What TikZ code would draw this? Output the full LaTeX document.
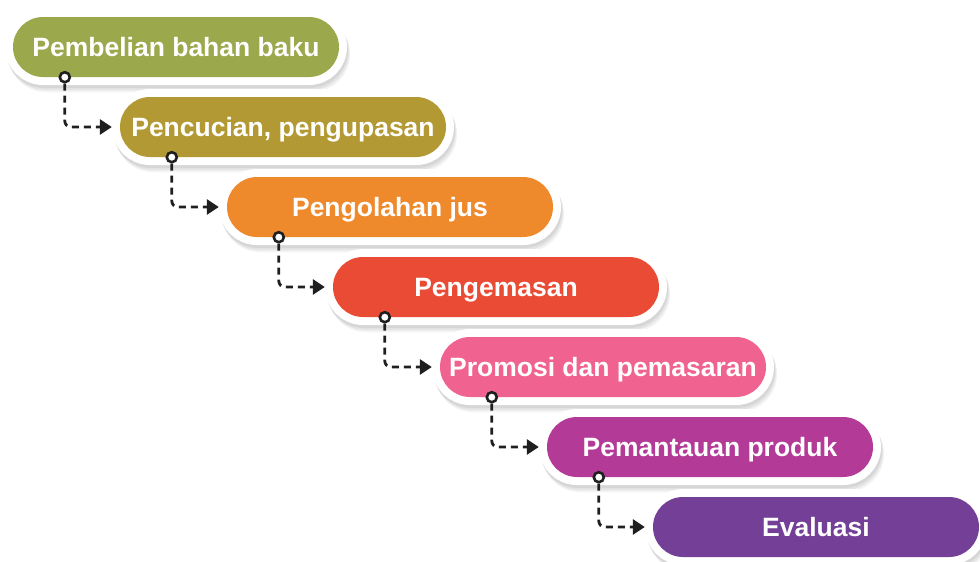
\documentclass[tikz,border=0pt]{standalone}
\usepackage{fontspec}
\setmainfont{Liberation Sans}
\usetikzlibrary{arrows.meta,calc}
\definecolor{colA}{HTML}{9CA84C}
\definecolor{colB}{HTML}{B39933}
\definecolor{colC}{HTML}{EE892C}
\definecolor{colD}{HTML}{EA4B35}
\definecolor{colE}{HTML}{F0628F}
\definecolor{colF}{HTML}{B33A97}
\definecolor{colG}{HTML}{733F97}
\tikzset{
  stage/.style={rectangle, rounded corners=30pt, minimum width=326pt, minimum height=60pt,
    inner sep=0pt, text height=19pt, text depth=0pt, fill=#1, text=white,
    font=\bfseries\fontsize{26.5}{30}\selectfont,
    preaction={fill=black, draw=black, line width=16pt, opacity=0.06, transform canvas={shift={(1pt,-3pt)}}},
    preaction={fill=black, draw=black, line width=16pt, opacity=0.06, transform canvas={shift={(2pt,-5pt)}}},
    preaction={fill=black, draw=black, line width=16pt, opacity=0.05, transform canvas={shift={(3pt,-7pt)}}},
    preaction={fill=white, draw=white, line width=16pt}},
  dot/.style={circle, draw=black!88, line width=2.6pt, fill=white, minimum size=10pt, inner sep=0pt},
  conn/.style={draw=black!88, line width=2.8pt, dash pattern=on 7pt off 5pt, rounded corners=6pt,
    -{Triangle[length=12pt,width=15pt]}},
}
\begin{document}
\begin{tikzpicture}[x=1pt,y=-1pt]
\useasboundingbox (0,0) rectangle (980,562);
\node[stage=colA] (s1) at (176,47) {Pembelian bahan baku};
\node[stage=colB] (s2) at (283,127) {Pencucian, pengupasan};
\node[stage=colC] (s3) at (390,207) {Pengolahan jus};
\node[stage=colD] (s4) at (496,287) {Pengemasan};
\node[stage=colE] (s5) at (603,367) {Promosi dan pemasaran};
\node[stage=colF] (s6) at (710,447) {Pemantauan produk};
\node[stage=colG] (s7) at (816,527) {Evaluasi};
\foreach \i/\j in {1/2,2/3,3/4,4/5,5/6,6/7}{
  \node[dot] (d\i) at ($(s\i.south west)+(52,0)$) {};
  \draw[conn] (d\i.south) |- ([xshift=-8pt]s\j.west);
}
\end{tikzpicture}
\end{document}
